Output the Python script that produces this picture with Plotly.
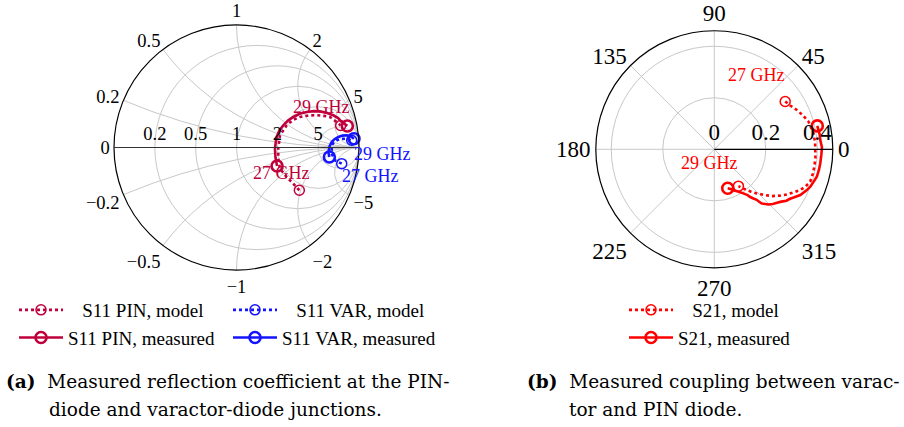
import numpy as np
import plotly.graph_objects as go

W, H = 904, 427

# ---------------- data ----------------
# Smith chart: reflection coefficient (Gamma) real/imag parts
pin_meas_re = [0.331, 0.318, 0.314, 0.320, 0.328, 0.350, 0.382, 0.420, 0.464, 0.515, 0.573, 0.630, 0.682, 0.740, 0.790, 0.830, 0.859, 0.905]
pin_meas_im = [-0.151, -0.080, -0.010, 0.040, 0.086, 0.140, 0.181, 0.220, 0.249, 0.275, 0.290, 0.297, 0.295, 0.282, 0.263, 0.240, 0.208, 0.176]
pin_model_re = [0.513, 0.464, 0.410, 0.355, 0.341, 0.341, 0.355, 0.410, 0.460, 0.518, 0.590, 0.655, 0.715, 0.763, 0.818, 0.850]
pin_model_im = [-0.349, -0.296, -0.241, -0.173, -0.091, -0.010, 0.100, 0.181, 0.225, 0.249, 0.262, 0.263, 0.258, 0.249, 0.208, 0.180]
var_meas_re = [0.758, 0.750, 0.760, 0.777, 0.800, 0.831, 0.865, 0.900, 0.935, 0.959]
var_meas_im = [-0.078, -0.040, 0.010, 0.045, 0.068, 0.086, 0.097, 0.100, 0.090, 0.072]
var_model_re = [0.859, 0.804, 0.777, 0.777, 0.795, 0.818, 0.850, 0.886, 0.940]
var_model_im = [-0.132, -0.105, -0.050, 0.018, 0.042, 0.059, 0.070, 0.072, 0.059]

# Polar chart: S21 magnitude / angle (deg)
s21_meas_r = [0.410, 0.413, 0.413, 0.418, 0.416, 0.415, 0.414, 0.412, 0.405, 0.400, 0.392, 0.378, 0.362, 0.350, 0.344, 0.330,
              0.318, 0.311, 0.300, 0.290, 0.280, 0.268, 0.256, 0.244, 0.232, 0.220, 0.205, 0.190, 0.175, 0.168, 0.160]
s21_meas_th = [12.8, 8.0, 5.0, 1.0, -3.0, -7.5, -11.0, -15.0, -18.5, -21.3, -24.0, -28.0, -31.0, -33.5, -35.5, -38.0,
               -41.0, -43.0, -45.5, -47.0, -48.7, -49.5, -50.0, -51.5, -53.0, -54.0, -56.6, -60.0, -65.0, -67.0, -71.0]
s21_model_r = [0.332, 0.340, 0.355, 0.368, 0.381, 0.390, 0.392, 0.392, 0.394, 0.394, 0.394, 0.393, 0.383, 0.369, 0.350,
               0.332, 0.310, 0.288, 0.262, 0.238, 0.218, 0.202, 0.186, 0.171]
s21_model_th = [34.0, 30.0, 25.5, 21.0, 16.4, 9.2, 4.0, -0.4, -5.0, -9.9, -14.0, -18.7, -22.0, -25.4, -28.5,
                -31.9, -35.5, -39.1, -42.5, -46.0, -49.0, -51.5, -54.0, -56.8]

smith_real_ticks = [0.2, 0.5, 1, 2, 5]
smith_imag_ticks = [-5, -2, -1, -0.5, -0.2, 0, 0.2, 0.5, 1, 2, 5]
polar_r_ticks = [0, 0.2, 0.4]
polar_th_ticks = [0, 45, 90, 135, 180, 225, 270, 315]

CRIMSON = "#C0003C"
BLUE = "#1414FF"
RED = "#FF0000"
SERIF = "Liberation Serif"
CAPF = "DejaVu Serif"
NB = "\u00a0"


def to_z(re, im):
    g = np.array(re) + 1j * np.array(im)
    z = (1 + g) / (1 - g)
    return z.real, z.imag


def ends(a):
    return [a[0], None, a[-1]]


fig = go.Figure()


def smith_series(re, im, color, name, model, legend):
    zr, zi = to_z(re, im)
    dash = "dot" if model else "solid"
    lw = 2.6
    fig.add_trace(go.Scattersmith(real=list(zr), imag=list(zi), mode="lines",
                                  line=dict(color=color, width=lw, dash=dash),
                                  showlegend=False, hoverinfo="skip"))
    fig.add_trace(go.Scattersmith(real=ends(list(zr)), imag=ends(list(zi)), mode="lines+markers",
                                  connectgaps=False, name=name, legend=legend,
                                  line=dict(color=color, width=lw, dash=dash),
                                  marker=dict(symbol="circle-open", size=10 if model else 11,
                                              line=dict(color=color, width=1.5 if model else 2.6)),
                                  hoverinfo="skip"))


smith_series(pin_model_re, pin_model_im, CRIMSON, NB * 3 + "S11 PIN, model", True, "legend")
smith_series(pin_meas_re, pin_meas_im, CRIMSON, "S11 PIN, measured", False, "legend")
smith_series(var_model_re, var_model_im, BLUE, NB * 3 + "S11 VAR, model", True, "legend2")
smith_series(var_meas_re, var_meas_im, BLUE, "S11 VAR, measured", False, "legend2")


def polar_series(r, th, color, name, model):
    dash = "dot" if model else "solid"
    lw = 2.6
    fig.add_trace(go.Scatterpolar(r=r, theta=th, mode="lines",
                                  line=dict(color=color, width=lw, dash=dash),
                                  showlegend=False, hoverinfo="skip"))
    fig.add_trace(go.Scatterpolar(r=ends(r), theta=ends(th), mode="lines+markers",
                                  connectgaps=False, name=name, legend="legend3",
                                  line=dict(color=color, width=lw, dash=dash),
                                  marker=dict(symbol="circle-open", size=10 if model else 11,
                                              line=dict(color=color, width=1.5 if model else 2.6)),
                                  hoverinfo="skip"))


polar_series(s21_model_r, s21_model_th, RED, NB * 3 + "S21, model", True)
polar_series(s21_meas_r, s21_meas_th, RED, "S21, measured", False)

GRID = "#C8C8C8"
smith_font = dict(family=SERIF, size=18.5, color="black")
polar_font = dict(family=SERIF, size=23, color="black")
leg_font = dict(family=SERIF, size=19, color="black")

fig.update_layout(
    width=W, height=H,
    margin=dict(l=0, r=0, t=0, b=0),
    paper_bgcolor="white",
    font=dict(family=SERIF, size=18, color="black"),
    smith=dict(
        domain=dict(x=[114 / W, 359 / W], y=[1 - 270 / H, 1 - 25 / H]),
        bgcolor="white",
        realaxis=dict(tickvals=smith_real_ticks, gridcolor=GRID, gridwidth=1, linecolor="#333333",
                      linewidth=1.2, side="top", tickangle=0, ticks="", tickfont=smith_font),
        imaginaryaxis=dict(tickvals=smith_imag_ticks, gridcolor=GRID, gridwidth=1, linecolor="black",
                           linewidth=1.2, ticks="", tickfont=smith_font),
    ),
    polar=dict(
        domain=dict(x=[595.8 / W, 832.8 / W], y=[1 - 267.8 / H, 1 - 30.8 / H]),
        bgcolor="white",
        radialaxis=dict(range=[0, 0.46], tickvals=polar_r_ticks, angle=0, side="counterclockwise",
                        showline=True, linecolor="black", linewidth=1.2, gridcolor=GRID,
                        ticks="", tickfont=polar_font),
        angularaxis=dict(tickvals=polar_th_ticks, direction="counterclockwise", rotation=0,
                         linecolor="black", linewidth=1.2, gridcolor=GRID, ticks="",
                         tickfont=polar_font),
    ),
    legend=dict(x=14 / W, y=1 - 291 / H, xanchor="left", yanchor="top", itemwidth=44,
                bgcolor="rgba(0,0,0,0)", font=leg_font, tracegroupgap=0),
    legend2=dict(x=228 / W, y=1 - 291 / H, xanchor="left", yanchor="top", itemwidth=44,
                 bgcolor="rgba(0,0,0,0)", font=leg_font, tracegroupgap=0),
    legend3=dict(x=624 / W, y=1 - 291 / H, xanchor="left", yanchor="top", itemwidth=44,
                 bgcolor="rgba(0,0,0,0)", font=leg_font, tracegroupgap=0),
    # hide the automatic infinity label at the right end of the Smith real axis
    shapes=[dict(type="rect", xref="paper", yref="paper", layer="above",
                 x0=363 / W, x1=393 / W, y0=1 - 159 / H, y1=1 - 135 / H,
                 fillcolor="white", line=dict(width=0))],
)

labels = [
    ("29 GHz", 321.7, 107, CRIMSON),
    ("27 GHz", 281.7, 173.3, CRIMSON),
    ("29 GHz", 382.7, 153.7, BLUE),
    ("27 GHz", 370, 176, BLUE),
    ("27 GHz", 756.7, 75, RED),
    ("29 GHz", 709.3, 162.7, RED),
]
for txt, x, y, c in labels:
    fig.add_annotation(text=txt, x=x / W, y=1 - y / H, xref="paper", yref="paper",
                       xanchor="center", yanchor="middle",
                       showarrow=False, font=dict(family=SERIF, size=18, color=c))

capfont = dict(family=CAPF, size=18.5, color="black")
caps = [
    ("<b>(a)</b>  Measured reflection coefficient at the PIN-", 4, 381),
    ("diode and varactor-diode junctions.", 47, 409),
    ("<b>(b)</b>  Measured coupling between varac-", 525, 381),
    ("tor and PIN diode.", 567, 409),
]
for txt, x, y in caps:
    fig.add_annotation(text=txt, x=x / W, y=1 - y / H, xref="paper", yref="paper",
                       xanchor="left", yanchor="middle", showarrow=False, font=capfont)

fig.write_html("out.html")
